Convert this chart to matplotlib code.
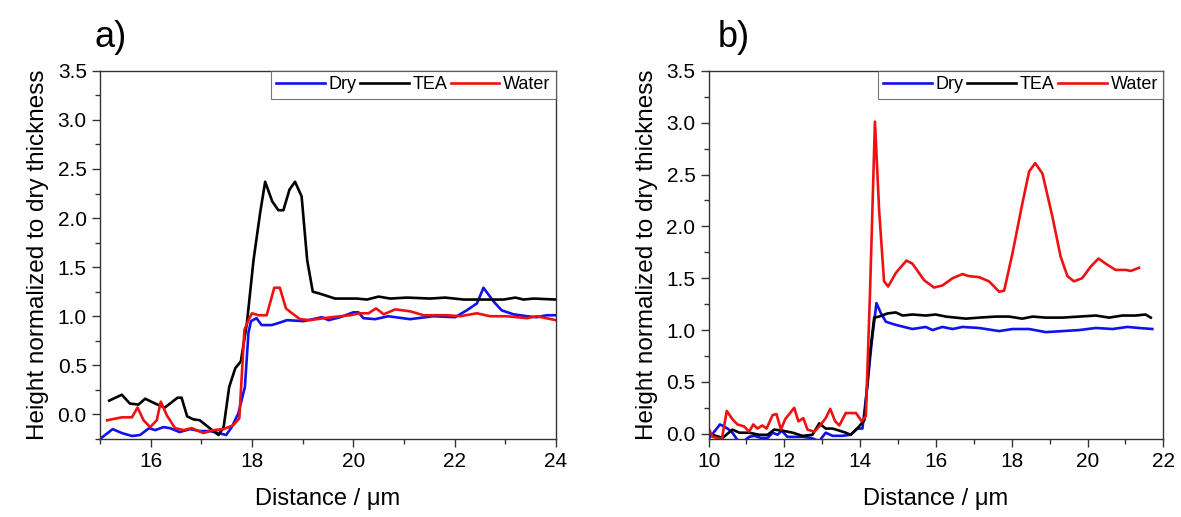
import matplotlib
matplotlib.use("Agg")
import matplotlib.pyplot as plt
from matplotlib.ticker import MultipleLocator

plt.rcParams['font.family'] = ['Liberation Sans', 'DejaVu Sans']

# ---- panel a) ----
a_dry_x = [15.0, 15.25, 15.43, 15.63, 15.79, 15.97, 16.09, 16.25, 16.38, 16.57, 16.78, 16.97,
           17.17, 17.34, 17.49, 17.60, 17.73, 17.86, 17.93, 17.98, 18.09, 18.19, 18.39, 18.52,
           18.69, 19.02, 19.38, 19.51, 19.74, 20.00, 20.10, 20.20, 20.43, 20.69, 21.12, 21.58,
           22.01, 22.24, 22.44, 22.57, 22.77, 22.93, 23.16, 23.43, 23.62, 23.82, 24.0]
a_dry_y = [-0.25, -0.15, -0.19, -0.22, -0.21, -0.14, -0.16, -0.13, -0.14, -0.18, -0.15, -0.17,
           -0.17, -0.19, -0.21, -0.13, 0.01, 0.28, 0.83, 0.95, 0.98, 0.91, 0.91, 0.93,
           0.96, 0.95, 0.99, 0.96, 0.99, 1.04, 1.04, 0.98, 0.97, 1.00, 0.97, 1.00,
           0.99, 1.06, 1.13, 1.29, 1.15, 1.06, 1.02, 1.00, 0.99, 1.01, 1.01]

a_tea_x = [15.18, 15.43, 15.59, 15.76, 15.89, 16.09, 16.28, 16.53, 16.61, 16.72, 16.84, 16.97,
           17.14, 17.34, 17.44, 17.55, 17.67, 17.78, 17.90, 18.03, 18.16, 18.26, 18.40, 18.52,
           18.62, 18.74, 18.85, 18.98, 19.09, 19.20, 19.34, 19.64, 20.07, 20.27, 20.50, 20.73,
           21.06, 21.52, 21.81, 22.18, 22.70, 22.97, 23.20, 23.36, 23.56, 24.0]
a_tea_y = [0.14, 0.20, 0.11, 0.10, 0.16, 0.11, 0.07, 0.17, 0.17, -0.02, -0.05, -0.06,
           -0.13, -0.21, -0.13, 0.28, 0.47, 0.54, 0.93, 1.57, 2.05, 2.37, 2.17, 2.08,
           2.08, 2.29, 2.37, 2.22, 1.57, 1.25, 1.23, 1.18, 1.18, 1.17, 1.20, 1.18,
           1.19, 1.18, 1.19, 1.17, 1.17, 1.17, 1.19, 1.17, 1.18, 1.17]

a_water_x = [15.14, 15.43, 15.63, 15.74, 15.86, 15.99, 16.12, 16.20, 16.32, 16.48, 16.65, 16.81,
             17.04, 17.24, 17.44, 17.63, 17.75, 17.85, 17.93, 18.00, 18.13, 18.29, 18.44, 18.55,
             18.67, 18.79, 18.95, 19.15, 19.41, 19.74, 19.94, 20.13, 20.30, 20.45, 20.60, 20.83,
             21.12, 21.39, 21.85, 22.11, 22.44, 22.70, 23.03, 23.43, 23.62, 24.0]
a_water_y = [-0.06, -0.03, -0.03, 0.07, -0.06, -0.13, -0.06, 0.13, -0.01, -0.14, -0.16, -0.14,
             -0.19, -0.16, -0.15, -0.11, -0.04, 0.86, 0.96, 1.03, 1.01, 1.01, 1.29, 1.29,
             1.08, 1.03, 0.97, 0.96, 0.98, 1.00, 1.01, 1.03, 1.03, 1.08, 1.02, 1.07,
             1.05, 1.01, 1.01, 1.00, 1.03, 1.00, 1.00, 0.98, 1.00, 0.96]

# ---- panel b) ----
b_dry_x = [10.0, 10.15, 10.30, 10.50, 10.63, 10.76, 10.90, 11.07, 11.20, 11.38, 11.56, 11.69,
           11.82, 11.93, 12.08, 12.26, 12.48, 12.70, 12.92, 13.09, 13.27, 13.53, 13.75, 13.93,
           14.06, 14.19, 14.30, 14.43, 14.55, 14.68, 14.94, 15.38, 15.73, 15.91, 16.17, 16.44,
           16.70, 17.14, 17.67, 18.02, 18.46, 18.90, 19.34, 19.78, 20.22, 20.66, 21.05, 21.36,
           21.71]
b_dry_y = [-0.05, 0.02, 0.09, 0.05, 0.01, -0.06, -0.08, -0.03, -0.02, -0.04, -0.04, 0.01,
           -0.01, 0.03, -0.03, -0.03, -0.03, -0.04, -0.07, 0.01, -0.02, -0.02, -0.01, 0.05,
           0.05, 0.46, 0.87, 1.26, 1.16, 1.08, 1.05, 1.01, 1.03, 1.00, 1.03, 1.01,
           1.03, 1.02, 0.99, 1.01, 1.01, 0.98, 0.99, 1.00, 1.02, 1.01, 1.03, 1.02,
           1.01]

b_tea_x = [10.0, 10.19, 10.37, 10.63, 10.81, 11.07, 11.34, 11.56, 11.73, 11.95, 12.22, 12.48,
           12.74, 12.92, 13.09, 13.27, 13.45, 13.62, 13.75, 13.97, 14.11, 14.24, 14.37, 14.50,
           14.72, 14.94, 15.12, 15.38, 15.73, 15.99, 16.26, 16.52, 16.79, 17.14, 17.58, 17.93,
           18.28, 18.55, 18.90, 19.34, 19.78, 20.22, 20.57, 20.92, 21.27, 21.53, 21.67]
b_tea_y = [0.0, -0.02, -0.04, 0.04, 0.01, 0.01, -0.01, -0.01, 0.04, 0.03, 0.01, -0.02,
           -0.01, 0.10, 0.05, 0.05, 0.03, 0.01, -0.01, 0.07, 0.13, 0.71, 1.12, 1.13,
           1.16, 1.17, 1.14, 1.15, 1.14, 1.15, 1.13, 1.12, 1.11, 1.12, 1.13, 1.13,
           1.11, 1.13, 1.12, 1.12, 1.13, 1.14, 1.12, 1.14, 1.14, 1.15, 1.12]

b_water_x = [10.0, 10.11, 10.35, 10.48, 10.63, 10.76, 10.94, 11.07, 11.18, 11.29, 11.42, 11.53,
             11.69, 11.79, 11.91, 12.02, 12.26, 12.37, 12.50, 12.61, 12.79, 12.92, 13.09, 13.21,
             13.34, 13.45, 13.62, 13.89, 14.04, 14.15, 14.26, 14.39, 14.50, 14.63, 14.74, 14.94,
             15.22, 15.38, 15.69, 15.95, 16.17, 16.44, 16.70, 16.87, 17.14, 17.40, 17.67, 17.80,
             18.02, 18.28, 18.46, 18.62, 18.81, 19.07, 19.29, 19.47, 19.64, 19.86, 20.08, 20.29,
             20.48, 20.74, 21.01, 21.14, 21.36]
b_water_y = [0.05, -0.03, -0.05, 0.22, 0.14, 0.09, 0.07, 0.02, 0.09, 0.05, 0.08, 0.05,
             0.18, 0.19, 0.04, 0.14, 0.25, 0.12, 0.15, 0.04, 0.02, 0.07, 0.15, 0.24,
             0.12, 0.08, 0.20, 0.20, 0.12, 0.17, 1.36, 3.01, 2.16, 1.47, 1.42, 1.55,
             1.67, 1.64, 1.48, 1.41, 1.43, 1.50, 1.54, 1.52, 1.51, 1.47, 1.37, 1.38,
             1.74, 2.22, 2.53, 2.61, 2.51, 2.10, 1.71, 1.52, 1.47, 1.50, 1.61, 1.69,
             1.64, 1.58, 1.58, 1.57, 1.60]

series_names = ["Dry", "TEA", "Water"]
series_colors = ["#1010f0", "#000000", "#ee1111"]

fig = plt.figure(figsize=(11.81, 5.17), dpi=100)
ax_a = fig.add_axes([0.0847, 0.151, 0.386, 0.712])
ax_b = fig.add_axes([0.600, 0.151, 0.385, 0.712])

panels = [
    (ax_a, [(a_dry_x, a_dry_y), (a_tea_x, a_tea_y), (a_water_x, a_water_y)],
     (15, 24), (-0.25, 3.5), "a)", 0.080),
    (ax_b, [(b_dry_x, b_dry_y), (b_tea_x, b_tea_y), (b_water_x, b_water_y)],
     (10, 22), (-0.05, 3.5), "b)", 0.608),
]

for ax, data, xlim, ylim, tag, tag_x in panels:
    for (x, y), name, col in zip(data, series_names, series_colors):
        ax.plot(x, y, color=col, lw=1.9, label=name)
    ax.set_xlim(*xlim)
    ax.set_ylim(*ylim)
    ax.xaxis.set_major_locator(MultipleLocator(2))
    ax.xaxis.set_minor_locator(MultipleLocator(1))
    ax.yaxis.set_major_locator(MultipleLocator(0.5))
    ax.yaxis.set_minor_locator(MultipleLocator(0.25))
    ax.tick_params(which='major', direction='out', length=6, width=1, labelsize=15,
                   color='#333333')
    ax.tick_params(which='minor', direction='out', length=3.5, width=1, color='#333333')
    for sp in ax.spines.values():
        sp.set_color('#333333')
        sp.set_linewidth(1)
    ax.set_xlabel("Distance / μm", fontsize=17, labelpad=12)
    ax.set_ylabel("Height normalized to dry thickness", fontsize=17.5, labelpad=6)
    leg = ax.legend(loc='upper right', ncol=3, fontsize=13, frameon=True, fancybox=False,
                    borderaxespad=0, borderpad=0.3, handlelength=2.7, handletextpad=0.2,
                    columnspacing=0.2)
    leg.get_frame().set_edgecolor('#555555')
    leg.get_frame().set_linewidth(0.8)
    fig.text(tag_x, 0.928, tag, fontsize=26, va='center', ha='left')

fig.savefig("out.png", dpi=100)
